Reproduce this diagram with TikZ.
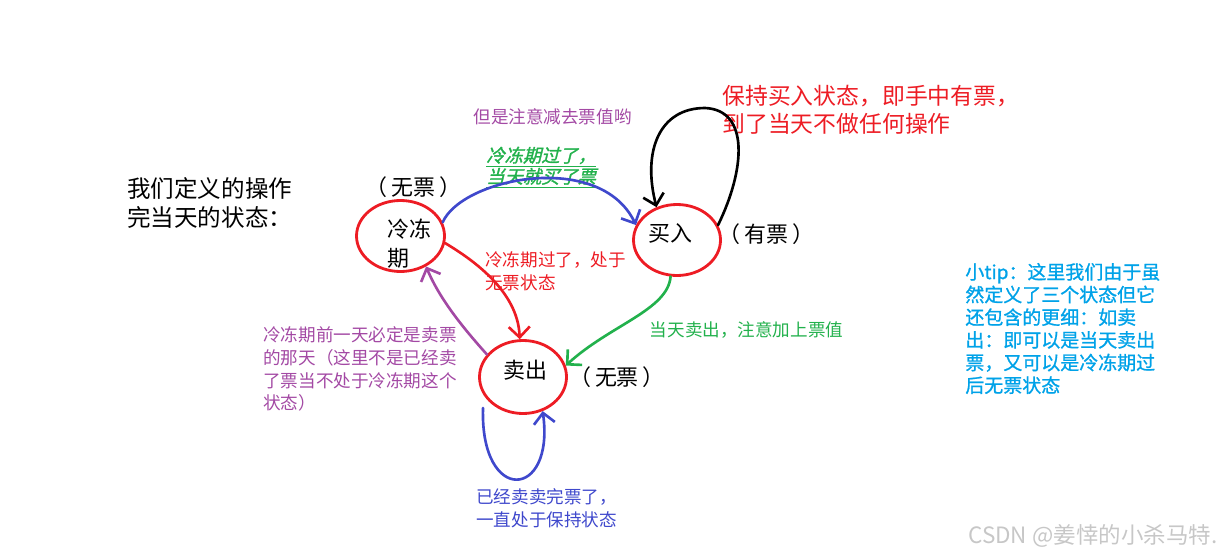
\documentclass[tikz,border=0pt]{standalone}
\usepackage{fontspec}
\setmainfont{Noto Sans CJK SC}
\newfontfamily\cjkslant[FakeSlant=0.25,FakeBold=1.5]{Noto Sans CJK SC}
\newfontfamily\cjkbold[FakeBold=1]{Noto Sans CJK SC}
\definecolor{pred}{RGB}{237,28,36}
\definecolor{pblue}{RGB}{63,72,204}
\definecolor{pgreen}{RGB}{34,177,76}
\definecolor{ppurple}{RGB}{163,73,164}
\definecolor{pcyan}{RGB}{0,162,232}
\usetikzlibrary{arrows.meta,shapes.geometric}

\begin{document}
\begin{tikzpicture}[every node/.style={inner sep=0pt},
  st/.style={ellipse, draw=pred, line width=1.6pt, minimum width=1.76cm, minimum height=1.42cm},
  pen/.style={line width=1.5pt, line cap=round, -{Straight Barb[length=6pt,width=12pt]}},
  sm/.style={font=\fontsize{10}{13}\selectfont, align=left},
  par/.style={font=\fontsize{12.5}{15}\selectfont}]
\useasboundingbox (0,0) rectangle (24.6,11.1);
% states
\node[st] (lq) at (8.01,6.38) {};
\node[st, minimum width=1.74cm] (mr) at (13.54,6.30) {};
\node[st, minimum width=1.74cm, minimum height=1.46cm] (mc) at (10.46,3.56) {};
\node[font=\fontsize{12.5}{16.5}\selectfont, align=left, anchor=west] (lqt) at (7.74,6.23) {冷冻\\期};
\node[font=\fontsize{12.5}{16.5}\selectfont] (mrt) at (13.41,6.44) {买入};
\node[font=\fontsize{12.5}{16.5}\selectfont] (mct) at (10.51,3.70) {卖出};
\node[par] (nt1) at (8.27,7.36) {（\,无票\,）};
\node[par] (ht) at (15.33,6.42) {（\,有票\,）};
\node[par] (nt2) at (12.34,3.56) {（\,无票\,）};
% notes
\node[font=\fontsize{13.4}{16.5}\selectfont, align=left, anchor=west] (defn) at (2.54,7.05) {我们定义的操作\\完当天的状态：};
\node[sm, ppurple] (note1) at (11.05,8.76) {但是注意减去票值哟};
\node[font=\fontsize{10.4}{12}\cjkslant, align=left, anchor=west, pgreen] (note2) at (9.72,7.75) {\underline{冷冻期过了，}\\\underline{当天就买了票}};
\node[font=\fontsize{13}{16.2}\selectfont, align=left, anchor=west, pred] (note3) at (14.44,8.9) {保持买入状态，即手中有票，\\到了当天不做任何操作};
\node[sm, anchor=west, pred] (note4) at (9.7,5.67) {冷冻期过了，处于\\无票状态};
\node[sm, pgreen] (note5) at (14.93,4.5) {当天卖出，注意加上票值};
\node[sm, anchor=west, ppurple] (note6) at (5.26,3.72) {冷冻期前一天必定是卖票\\的那天（这里不是已经卖\\了票当不处于冷冻期这个\\状态）};
\node[sm, anchor=west, pblue] (note7) at (9.52,0.93) {已经卖卖完票了，\\一直处于保持状态};
\node[font=\fontsize{10.8}{12.9}\cjkbold, align=left, anchor=west, pcyan] (tip) at (19.3,4.53) {小tip：这里我们由于虽\\然定义了三个状态但它\\还包含的更细：如卖\\出：即可以是当天卖出\\票，又可以是冷冻期过\\后无票状态};
\node[font=\fontsize{12.8}{15}\selectfont, anchor=west, black!22] (mark) at (19.36,0.38) {CSDN @姜悻的小杀马特.};
% transitions
\draw[pen, pblue] (lq.18) .. controls (9.24,7.54) and (12.0,8.1) .. (mr.160);
\draw[pen, black] (mr.20) .. controls (14.9,7.7) and (15.0,8.9) .. (14.1,8.94) .. controls (13.2,8.94) and (12.84,8.1) .. (mr.122);
\draw[pen, pred] (lq.-9) .. controls (9.4,5.94) and (10.36,5.3) .. (mc.95);
\draw[pen, ppurple] (mc.148) .. controls (9.3,4.5) and (8.8,5.1) .. (lq.-50);
\draw[pen, pgreen] (mr.-100) .. controls (13.36,4.9) and (12.2,4.6) .. (mc.15);
\coordinate (loopin) at (9.66,2.94);
\draw[pen, pblue] (loopin) .. controls (9.6,1.0) and (11.1,1.1) .. (mc.-60);
\end{tikzpicture}
\end{document}
